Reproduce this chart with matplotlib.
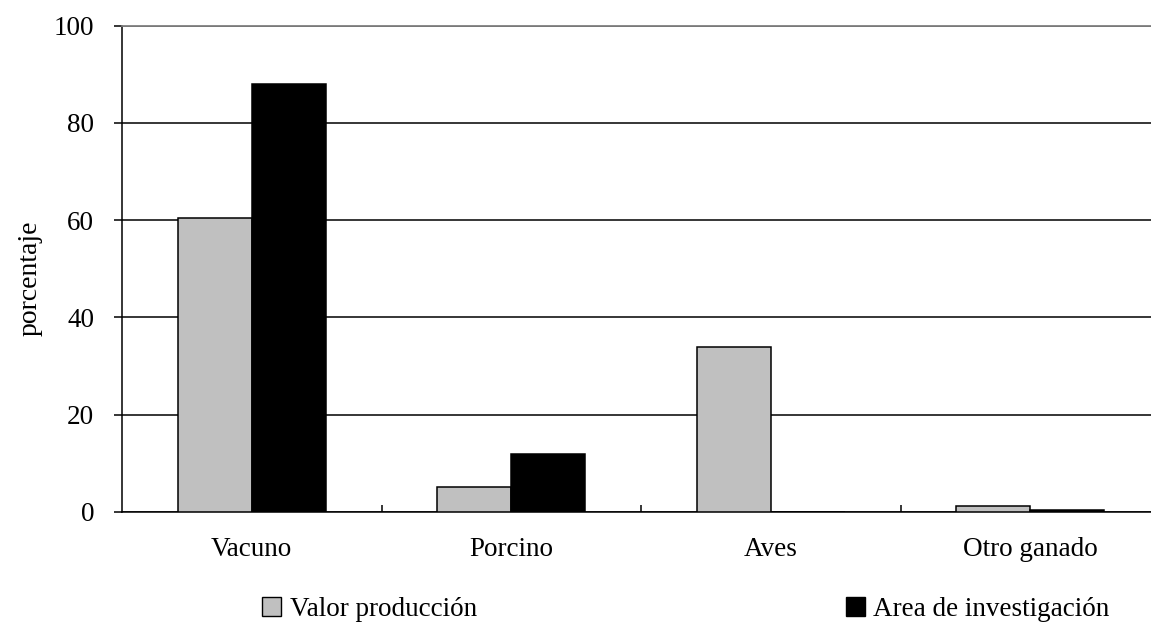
import matplotlib
matplotlib.use("Agg")
import matplotlib.pyplot as plt
from matplotlib.patches import Patch
import numpy as np

categories = ["Vacuno", "Porcino", "Aves", "Otro ganado"]
valor_produccion = [60.5, 5.0, 33.8, 1.2]
area_investigacion = [88.0, 11.8, 0.0, 0.3]
series_labels = ["Valor producción", "Area de investigación"]
y_ticks = [0, 20, 40, 60, 80, 100]

plt.rcParams["font.family"] = ["Liberation Serif", "DejaVu Serif"]
FS = 19.5

fig = plt.figure(figsize=(11.51, 6.24), dpi=100)
ax = fig.add_axes([122 / 1151, 112.3 / 624, 1038 / 1151, 486 / 624])

x = np.arange(len(categories))
w = 0.285
ax.bar(x - w / 2, valor_produccion, w, color="#c0c0c0", edgecolor="black",
       linewidth=1.1, zorder=3)
ax.bar(x + w / 2, area_investigacion, w, color="black", edgecolor="black",
       linewidth=1.1, zorder=3)

ax.set_xlim(-0.5, len(categories) - 0.5)
ax.set_ylim(0, 100)
ax.set_yticks(y_ticks)
ax.tick_params(axis="y", direction="out", length=6, width=1.1, labelsize=FS, pad=14)

# category separators as inward ticks, labels centred on the groups
ax.set_xticks(np.arange(0.5, len(categories) - 0.5, 1.0))
ax.set_xticklabels([])
ax.tick_params(axis="x", which="major", direction="in", length=5, width=1.1)
ax.set_xticks(x, minor=True)
ax.set_xticklabels(categories, minor=True, fontsize=FS)
ax.tick_params(axis="x", which="minor", length=0, pad=18)

ax.yaxis.grid(True, color="black", linewidth=1.1, zorder=0)
ax.set_axisbelow(True)
ax.spines["right"].set_visible(False)
ax.spines["top"].set_color("#808080")
ax.spines["top"].set_linewidth(1.3)
for s in ("left", "bottom"):
    ax.spines[s].set_linewidth(1.1)

ax.set_ylabel("porcentaje", fontsize=20, labelpad=8, y=0.48)

handles = [Patch(facecolor="#c0c0c0", edgecolor="black", linewidth=1.0),
           Patch(facecolor="black", edgecolor="black")]
fig.legend(handles, series_labels, loc="center", ncol=2,
           bbox_to_anchor=(0.596, 0.024), frameon=False, fontsize=FS,
           handlelength=0.7, handleheight=0.7, handletextpad=0.33,
           columnspacing=13.6, borderpad=0.2)

fig.savefig("out.png", dpi=100)
